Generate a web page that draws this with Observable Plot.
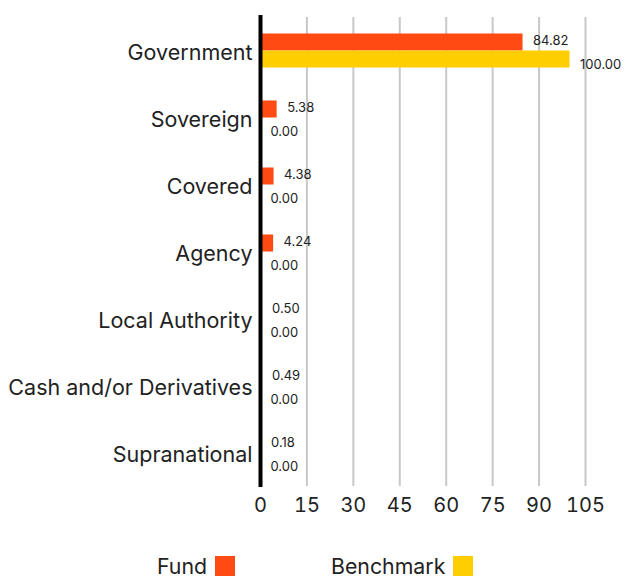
<!DOCTYPE html>
<html>
<head>
<meta charset="utf-8">
<script src="https://cdn.jsdelivr.net/npm/d3@7"></script>
<script src="https://cdn.jsdelivr.net/npm/@observablehq/plot@0.6"></script>
<style>
  html, body { margin: 0; padding: 0; background: #fff; }
  body { width: 626px; height: 580px; overflow: hidden; font-family: Inter, "Noto Sans", sans-serif; color: #222; }
  #legend { position: relative; height: 50px; font-size: 21.3px; line-height: 20px; }
  .item { position: absolute; top: 26px; height: 20px; display: flex; align-items: center; }
  .sw { width: 20px; height: 20px; margin-left: 8px; }
</style>
</head>
<body>
<div id="chart"></div>
<div id="legend"></div>
<script>
const categories = ["Government", "Sovereign", "Covered", "Agency", "Local Authority", "Cash and/or Derivatives", "Supranational"];
const fundValues = [84.82, 5.38, 4.38, 4.24, 0.50, 0.49, 0.18];
const benchmarkValues = [100.00, 0.00, 0.00, 0.00, 0.00, 0.00, 0.00];
const xTicks = [0, 15, 30, 45, 60, 75, 90, 105];
const seriesNames = ["Fund", "Benchmark"];
const seriesColors = ["#FF4A14", "#FFCE00"];

const fund = categories.map((c, i) => ({category: c, value: fundValues[i]}));
const bench = categories.map((c, i) => ({category: c, value: benchmarkValues[i]}));

const font = "Inter, 'Noto Sans', sans-serif";
const chart = Plot.plot({
  width: 626,
  height: 530,
  marginLeft: 260,
  marginRight: 41,
  marginTop: 17,
  marginBottom: 44,
  style: {fontFamily: font, color: "#222", background: "#fff"},
  x: {domain: [0, 105], ticks: xTicks, label: null},
  y: {domain: categories, padding: 0, label: null},
  marks: [
    Plot.ruleX(xTicks.filter(d => d > 0), {stroke: "#c8c8c8", strokeWidth: 2}),
    Plot.barX(fund, {y: "category", x: "value", fill: seriesColors[0], insetTop: 16.5, insetBottom: 33.5}),
    Plot.barX(bench, {y: "category", x: "value", fill: seriesColors[1], insetTop: 33.5, insetBottom: 16.5}),
    Plot.text(fund, {y: "category", x: "value", text: d => d.value.toFixed(2), textAnchor: "start", dx: 10, dy: -10.5, fontSize: 13, fill: "#222"}),
    Plot.text(bench, {y: "category", x: "value", text: d => d.value.toFixed(2), textAnchor: "start", dx: 10, dy: 13.5, fontSize: 13, fill: "#222"}),
    Plot.ruleX([0], {stroke: "#000", strokeWidth: 4, insetTop: -2, insetBottom: -1}),
    Plot.axisX({ticks: xTicks, tickSize: 0, tickPadding: 11, fontSize: 20, label: null, tickFormat: d => String(d)}),
    Plot.axisY({tickSize: 0, tickPadding: 8, fontSize: 21.5, dy: 2, label: null})
  ]
});
document.getElementById("chart").appendChild(chart);

const legend = document.getElementById("legend");
const positions = [157, 331];
seriesNames.forEach((name, i) => {
  const item = document.createElement("div");
  item.className = "item";
  item.style.left = positions[i] + "px";
  const label = document.createElement("span");
  label.textContent = name;
  const sw = document.createElement("span");
  sw.className = "sw";
  sw.style.background = seriesColors[i];
  item.appendChild(label);
  item.appendChild(sw);
  legend.appendChild(item);
});
</script>
</body>
</html>
